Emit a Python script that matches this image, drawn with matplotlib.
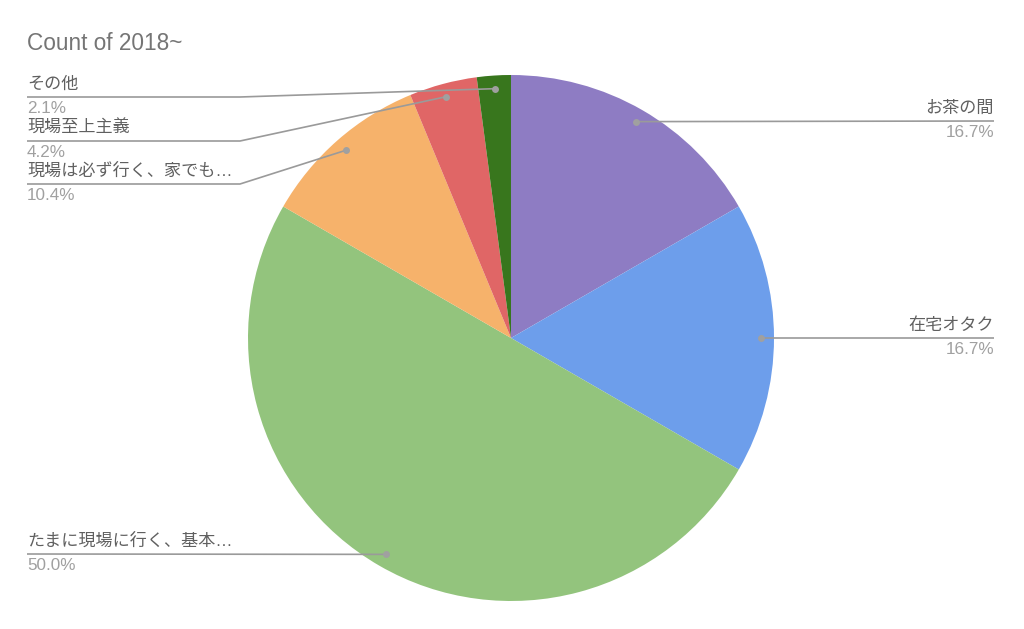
import numpy as np
import matplotlib.pyplot as plt

plt.rcParams['font.family'] = ['Liberation Sans', 'Noto Sans CJK JP', 'DejaVu Sans']

# data
labels = ['お茶の間', '在宅オタク', 'たまに現場に行く、基本…', '現場は必ず行く、家でも…', '現場至上主義', 'その他']
counts = [8, 8, 24, 5, 2, 1]
colors = ['#8e7cc3', '#6d9eeb', '#93c47d', '#f6b26b', '#e06666', '#38761d']

W, H = 1024, 629
cx, cy, R = 511, H - 338, 263

fig = plt.figure(figsize=(W / 100, H / 100), dpi=100)
ax = fig.add_axes([0, 0, 1, 1])
ax.axis('off')

ax.pie(counts, colors=colors, startangle=90, counterclock=False,
       center=(cx, cy), radius=R, wedgeprops=dict(linewidth=0))
ax.set_xlim(0, W)
ax.set_ylim(0, H)
ax.set_aspect('equal')

total = sum(counts)
pcts = [100 * c / total for c in counts]
cum = np.cumsum([0] + counts)

# label layout: side, line y (px from top), elbow x
layout = {
    0: ('right', 121, None),
    1: ('right', 338, None),
    2: ('left', 554, None),
    3: ('left', 184, 240),
    4: ('left', 141, 240),
    5: ('left', 97, 240),
}

name_col = '#606060'
pct_col = '#a0a0a0'
line_col = '#9a9a9a'
fs = 12.3

for i, lab in enumerate(labels):
    mid = (cum[i] + cum[i + 1]) / 2 / total * 360
    ang = np.deg2rad(90 - mid)
    dx = cx + 0.95 * R * np.cos(ang)
    dy = cy + 0.95 * R * np.sin(ang)
    side, ly, ex = layout[i]
    ly = H - ly
    if side == 'right':
        xs, ys = [dx, 994], [dy, ly]
        tx, ha = 994, 'right'
    else:
        if ex is None:
            xs, ys = [dx, 27], [dy, ly]
        else:
            xs, ys = [dx, ex, 27], [dy, ly, ly]
        tx, ha = 27, 'left'
    ax.plot(xs, ys, color=line_col, lw=1.2, solid_capstyle='butt')
    ax.plot(dx, dy, 'o', ms=5, color='#a0a0a0', mec='none')
    ax.text(tx, ly + 5, lab, ha=ha, va='bottom', fontsize=fs, color=name_col)
    ax.text(tx, ly - 4, f'{pcts[i]:.1f}%', ha=ha, va='top', fontsize=fs, color=pct_col)

ax.text(27, H - 43, 'Count of 2018~', ha='left', va='center', fontsize=16.3, color='#757575')

fig.savefig('out.png', dpi=100)
